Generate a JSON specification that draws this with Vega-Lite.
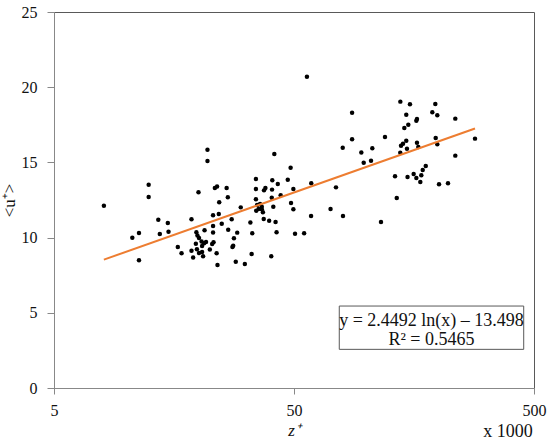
{
  "$schema": "https://vega.github.io/schema/vega-lite/v6.json",
  "width": 480,
  "height": 376,
  "autosize": {"type": "none"},
  "padding": {"left": 54, "top": 12, "right": 16, "bottom": 54},
  "background": "white",
  "config": {
    "view": {"stroke": "#595959", "strokeWidth": 1},
    "font": "Liberation Serif",
    "axis": {
      "grid": false,
      "labelFont": "Liberation Serif",
      "labelFontSize": 16,
      "labelColor": "#111111",
      "domainColor": "#888888",
      "tickColor": "#888888",
      "titleFont": "Liberation Serif",
      "titleFontSize": 17,
      "titleFontWeight": "normal",
      "titleColor": "#111111"
    }
  },
  "datasets": {
    "points": [
      {"z": 8.07, "u": 12.12}, {"z": 10.6, "u": 9.99}, {"z": 11.3, "u": 10.31}, {"z": 11.3, "u": 8.49},
      {"z": 12.4, "u": 13.52}, {"z": 12.4, "u": 12.70}, {"z": 13.6, "u": 11.19}, {"z": 13.8, "u": 10.24},
      {"z": 14.9, "u": 10.97}, {"z": 15.0, "u": 10.39}, {"z": 16.4, "u": 9.38}, {"z": 17.0, "u": 8.96},
      {"z": 18.7, "u": 11.22}, {"z": 18.7, "u": 9.13}, {"z": 19.0, "u": 8.68}, {"z": 19.6, "u": 10.36},
      {"z": 19.8, "u": 10.14}, {"z": 20.1, "u": 9.97}, {"z": 19.5, "u": 9.59}, {"z": 20.6, "u": 9.74},
      {"z": 21.1, "u": 9.62}, {"z": 21.5, "u": 9.71}, {"z": 20.7, "u": 9.44}, {"z": 19.7, "u": 9.22},
      {"z": 20.1, "u": 8.98}, {"z": 20.7, "u": 9.04}, {"z": 20.9, "u": 8.76}, {"z": 20.0, "u": 13.01},
      {"z": 21.2, "u": 10.49}, {"z": 21.8, "u": 15.84}, {"z": 21.8, "u": 15.09}, {"z": 22.3, "u": 9.21},
      {"z": 23.0, "u": 11.48}, {"z": 24.3, "u": 11.57}, {"z": 23.0, "u": 10.77}, {"z": 23.0, "u": 10.34},
      {"z": 23.1, "u": 9.69}, {"z": 22.8, "u": 9.57}, {"z": 23.4, "u": 13.30}, {"z": 23.9, "u": 13.40},
      {"z": 24.4, "u": 12.35}, {"z": 25.0, "u": 10.92}, {"z": 23.8, "u": 8.96}, {"z": 24.0, "u": 8.18},
      {"z": 26.2, "u": 13.30}, {"z": 26.5, "u": 12.68}, {"z": 26.6, "u": 10.52}, {"z": 27.5, "u": 11.22},
      {"z": 27.9, "u": 9.46}, {"z": 27.7, "u": 9.38}, {"z": 28.1, "u": 9.95}, {"z": 28.6, "u": 8.39},
      {"z": 29.0, "u": 10.33}, {"z": 30.0, "u": 12.01}, {"z": 31.2, "u": 8.24}, {"z": 32.9, "u": 11.00},
      {"z": 33.5, "u": 10.29}, {"z": 33.3, "u": 8.91}, {"z": 34.7, "u": 13.90}, {"z": 34.7, "u": 13.23},
      {"z": 34.7, "u": 12.55}, {"z": 35.1, "u": 12.17}, {"z": 36.1, "u": 12.23}, {"z": 36.7, "u": 12.05},
      {"z": 35.6, "u": 11.90}, {"z": 36.7, "u": 11.88}, {"z": 34.8, "u": 11.79}, {"z": 37.1, "u": 11.68},
      {"z": 37.4, "u": 11.24}, {"z": 38.0, "u": 13.30}, {"z": 37.5, "u": 13.14}, {"z": 40.5, "u": 13.19},
      {"z": 40.6, "u": 13.81}, {"z": 39.4, "u": 11.12}, {"z": 40.2, "u": 8.76}, {"z": 40.4, "u": 12.65},
      {"z": 41.0, "u": 12.05}, {"z": 41.4, "u": 15.56}, {"z": 41.9, "u": 11.04}, {"z": 42.3, "u": 10.35},
      {"z": 42.8, "u": 13.56}, {"z": 44.0, "u": 12.81}, {"z": 47.1, "u": 13.85}, {"z": 48.4, "u": 14.65},
      {"z": 48.6, "u": 12.30}, {"z": 49.7, "u": 13.23}, {"z": 49.7, "u": 11.88}, {"z": 50.5, "u": 10.26},
      {"z": 55.1, "u": 10.29}, {"z": 56.6, "u": 20.70}, {"z": 59.0, "u": 13.61}, {"z": 58.9, "u": 11.44},
      {"z": 71.0, "u": 11.90}, {"z": 74.8, "u": 13.34}, {"z": 79.8, "u": 15.98}, {"z": 80.0, "u": 11.44},
      {"z": 87.3, "u": 18.30}, {"z": 87.3, "u": 16.54}, {"z": 95.4, "u": 15.66}, {"z": 97.6, "u": 14.97},
      {"z": 104.7, "u": 15.11}, {"z": 106.0, "u": 15.94}, {"z": 115.2, "u": 11.04}, {"z": 119.7, "u": 16.69},
      {"z": 131.8, "u": 14.08}, {"z": 134.0, "u": 12.63}, {"z": 138.7, "u": 19.04}, {"z": 152.1, "u": 18.86},
      {"z": 194.0, "u": 18.88}, {"z": 188.5, "u": 18.33}, {"z": 197.7, "u": 18.13}, {"z": 146.8, "u": 18.17},
      {"z": 161.7, "u": 17.77}, {"z": 162.7, "u": 17.89}, {"z": 149.7, "u": 17.51}, {"z": 144.1, "u": 17.29},
      {"z": 235.0, "u": 17.91}, {"z": 146.8, "u": 16.44}, {"z": 142.3, "u": 16.24}, {"z": 139.6, "u": 16.11},
      {"z": 147.8, "u": 15.91}, {"z": 138.6, "u": 15.64}, {"z": 162.7, "u": 16.31}, {"z": 164.8, "u": 16.02},
      {"z": 194.7, "u": 16.62}, {"z": 197.7, "u": 16.20}, {"z": 283.9, "u": 16.58}, {"z": 235.0, "u": 15.45},
      {"z": 148.6, "u": 14.03}, {"z": 157.6, "u": 14.23}, {"z": 161.7, "u": 13.96}, {"z": 168.0, "u": 13.70},
      {"z": 169.6, "u": 14.14}, {"z": 171.9, "u": 14.49}, {"z": 177.0, "u": 14.76}, {"z": 201.0, "u": 13.54},
      {"z": 219.1, "u": 13.61}
    ],
    "fit": [
      {"z": 8.07, "u": 8.535},
      {"z": 283.9, "u": 17.25}
    ],
    "box": [
      {"z1": 77.2, "z2": 453, "u1": 2.57, "u2": 5.45}
    ],
    "labels": [
      {"z": 187, "u": 4.47, "label": "y = 2.4492 ln(x) – 13.498"},
      {"z": 187, "u": 3.19, "label": "R² = 0.5465"},
      {"z": 390, "u": -2.93, "label": "x 1000"}
    ]
  },
  "layer": [
    {
      "data": {"name": "points"},
      "mark": {"type": "circle", "size": 20, "color": "black", "opacity": 1},
      "encoding": {
        "x": {
          "field": "z", "type": "quantitative", "title": "z⁺",
          "scale": {"type": "log", "domain": [5, 500], "nice": false},
          "axis": {"values": [5, 50, 500], "tickSize": 6, "labelPadding": 8, "titlePadding": 4, "titleFontStyle": "italic", "labelFlush": false, "format": "d"}
        },
        "y": {
          "field": "u", "type": "quantitative", "title": "<u⁺>",
          "scale": {"domain": [0, 25], "nice": false},
          "axis": {"values": [0, 5, 10, 15, 20, 25], "tickSize": 7, "labelPadding": 10, "titlePadding": 3}
        }
      }
    },
    {
      "data": {"name": "fit"},
      "mark": {"type": "line", "color": "#ED7D31", "strokeWidth": 2},
      "encoding": {
        "x": {"field": "z", "type": "quantitative", "title": "z⁺"},
        "y": {"field": "u", "type": "quantitative", "title": "<u⁺>"}
      }
    },
    {
      "data": {"name": "box"},
      "mark": {"type": "rect", "fill": "white", "stroke": "#595959", "strokeWidth": 1},
      "encoding": {
        "x": {"field": "z1", "type": "quantitative", "title": "z⁺"},
        "x2": {"field": "z2"},
        "y": {"field": "u1", "type": "quantitative", "title": "<u⁺>"},
        "y2": {"field": "u2"}
      }
    },
    {
      "data": {"name": "labels"},
      "mark": {"type": "text", "font": "Liberation Serif", "fontSize": 18, "color": "#111111", "align": "center", "baseline": "middle"},
      "encoding": {
        "x": {"field": "z", "type": "quantitative", "title": "z⁺"},
        "y": {"field": "u", "type": "quantitative", "title": "<u⁺>"},
        "text": {"field": "label", "type": "nominal"}
      }
    }
  ]
}
